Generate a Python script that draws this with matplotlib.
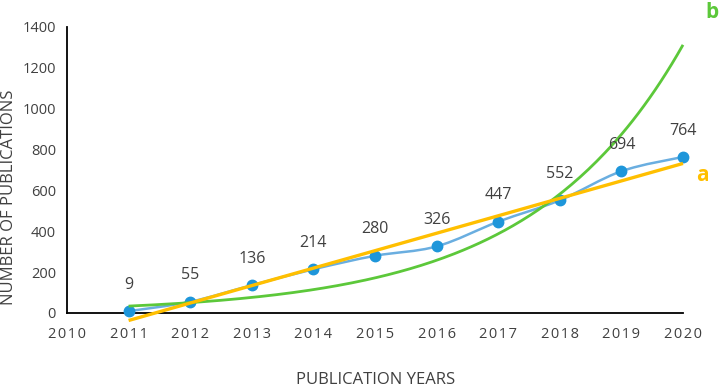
import numpy as np
import matplotlib
matplotlib.use('Agg')
import matplotlib.pyplot as plt
from matplotlib.path import Path
from matplotlib.patches import PathPatch

plt.rcParams['font.family'] = ['Open Sans', 'DejaVu Sans']

# data
years = [2011, 2012, 2013, 2014, 2015, 2016, 2017, 2018, 2019, 2020]
pubs = [9, 55, 136, 214, 280, 326, 447, 552, 694, 764]
x_ticks = list(range(2010, 2021))
y_ticks = list(range(0, 1401, 200))

blue_pt = '#1E96DA'
blue_ln = '#6AAEE0'
yellow = '#FFBF00'
green = '#5CC83A'
txt = '#404040'

fig = plt.figure(figsize=(7.2, 3.88), dpi=100)
ax = fig.add_axes([67/720, 1 - 313/388, (683 - 67)/720, (313 - 27)/388])

# smoothed line through the points (excel style bezier)
px = np.array(years, dtype=float)
py = np.array(pubs, dtype=float)
ext_x = np.concatenate([[px[0]], px, [px[-1]]])
ext_y = np.concatenate([[py[0]], py, [py[-1]]])
verts = [(px[0], py[0])]
codes = [Path.MOVETO]
for i in range(len(px) - 1):
    j = i + 1
    c1 = (px[i] + (ext_x[j + 1] - ext_x[j - 1]) / 6, py[i] + (ext_y[j + 1] - ext_y[j - 1]) / 6)
    c2 = (px[i + 1] - (ext_x[j + 2] - ext_x[j]) / 6, py[i + 1] - (ext_y[j + 2] - ext_y[j]) / 6)
    verts += [c1, c2, (px[i + 1], py[i + 1])]
    codes += [Path.CURVE4] * 3
ax.add_patch(PathPatch(Path(verts, codes), fill=False, edgecolor=blue_ln, lw=1.8, zorder=2))
ax.plot(years, pubs, 'o', color=blue_pt, ms=7.5, zorder=3, clip_on=False)

# trend lines (linear = a, exponential = b)
idx = np.arange(1, len(years) + 1)
xs = np.linspace(1, len(years), 200)
lin = np.polyfit(idx, pubs, 1)
expo = np.polyfit(idx, np.log(pubs), 1)
ax.plot(xs + 2010, np.exp(np.polyval(expo, xs)), color=green, lw=2.0, zorder=4,
        solid_capstyle='butt', clip_on=False)
ax.plot(xs + 2010, np.polyval(lin, xs), color=yellow, lw=2.4, zorder=5,
        solid_capstyle='butt', clip_on=False)

for x, y in zip(years, pubs):
    ax.annotate(str(y), (x, y), xytext=(0, 19), textcoords='offset points',
                ha='center', va='center', fontsize=11.5, color=txt, zorder=6)

ax.text(1.031, 0.48, 'a', transform=ax.transAxes, color=yellow, fontsize=15,
        fontweight='bold', ha='center', va='center', clip_on=False)
ax.text(1.047, 1.05, 'b', transform=ax.transAxes, color=green, fontsize=15,
        fontweight='bold', ha='center', va='center', clip_on=False)

ax.set_xlim(2010, 2020)
ax.set_ylim(0, 1400)
ax.set_xticks(x_ticks)
ax.set_xticklabels(['\u200a'.join(str(t)) for t in x_ticks])
ax.set_yticks(y_ticks)
ax.tick_params(length=0, labelsize=10.5, colors=txt)
ax.tick_params(axis='x', pad=10)
ax.tick_params(axis='y', pad=8)
for s in ['top', 'right']:
    ax.spines[s].set_visible(False)
for s in ['left', 'bottom']:
    ax.spines[s].set_linewidth(1.3)
    ax.spines[s].set_color('black')

fig.text(376/720, 1 - 380/388, 'PUBLICATION YEARS', ha='center', va='center',
         fontsize=12, color=txt)
fig.text(9/720, 1 - 197/388, 'NUMBER OF PUBLICATIONS', ha='center', va='center',
         rotation=90, fontsize=12, color=txt)

fig.savefig('out.png', dpi=100)
